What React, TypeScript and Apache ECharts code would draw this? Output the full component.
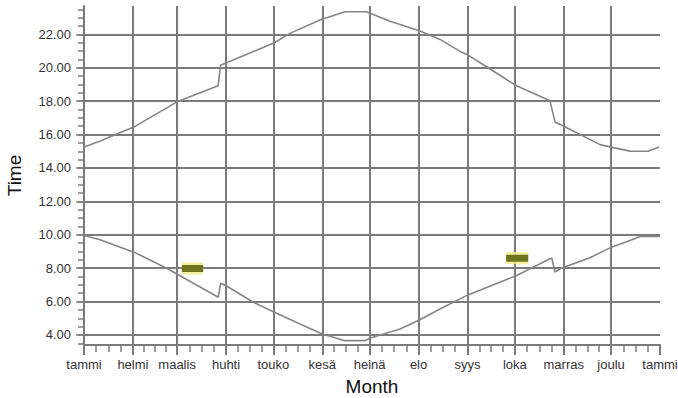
import React, { useEffect, useRef } from 'react';
import * as echarts from 'echarts';

// Month boundaries (day of year) and their Finnish labels
const monthStarts = [0, 31, 59, 90, 120, 151, 181, 212, 243, 273, 304, 334, 365];
const monthLabels = ['tammi', 'helmi', 'maalis', 'huhti', 'touko', 'kesä', 'heinä', 'elo', 'syys', 'loka', 'marras', 'joulu', 'tammi'];

// Y axis tick labels
const yLabelValues = [4, 6, 8, 10, 12, 14, 16, 18, 20, 22];
const yMinorValues = [3.5, 4, 4.5, 5, 5.5, 6, 6.5, 7, 7.5, 8, 8.5, 9, 9.5, 10, 10.5, 11, 11.5, 12, 12.5, 13, 13.5, 14, 14.5, 15, 15.5, 16, 16.5, 17, 17.5, 18, 18.5, 19, 19.5, 20, 20.5, 21, 21.5, 22, 22.5, 23, 23.5];

// Sunset (upper curve)
const sunsetDays = [0, 10, 31.5, 59, 85, 86.5, 94.6, 120.6, 130.5, 149.5, 165.4, 179, 193.5, 212.5, 225.6, 238.3, 243.4, 256.8, 273.4, 295.3, 298.5, 304, 327, 334, 346, 357.4, 364.4];
const sunsetTimes = [15.25, 15.6, 16.45, 17.96, 18.92, 20.15, 20.46, 21.5, 22.06, 22.86, 23.36, 23.36, 22.8, 22.22, 21.7, 20.98, 20.76, 19.96, 18.96, 18.02, 16.75, 16.5, 15.4, 15.25, 15.01, 15.0, 15.25];

// Sunrise (lower curve)
const sunriseDays = [0, 10.1, 31.7, 52.4, 85.1, 86.6, 90.4, 107.3, 120.6, 136.9, 151, 165.4, 178, 181, 200.2, 212.5, 225.6, 243.3, 274.2, 295.3, 296.4, 298.5, 301.6, 304.2, 320.6, 334.2, 346, 352.3, 365];
const sunriseTimes = [9.96, 9.7, 8.96, 8.0, 6.26, 7.1, 6.93, 5.96, 5.36, 4.66, 4.06, 3.66, 3.66, 3.8, 4.36, 4.9, 5.56, 6.4, 7.56, 8.56, 8.62, 7.76, 7.96, 8.05, 8.62, 9.26, 9.66, 9.9, 9.9];

// Highlight marks
const markADays = [62, 75.5];
const markATimes = [7.98, 7.98];
const markBDays = [267.5, 281.5];
const markBTimes = [8.6, 8.6];

const zip = (xs: number[], ys: number[]) => xs.map((x, i) => [x, ys[i]]);

const quarterTicks: number[] = [];
for (let i = 0; i < monthStarts.length - 1; i++) {
  const a = monthStarts[i];
  const b = monthStarts[i + 1];
  for (let q = 1; q < 4; q++) quarterTicks.push(a + ((b - a) * q) / 4);
}

const GRID = '#7b7b7b';
const LINE = '#858585';
const FONT = '"Liberation Sans", Arial, sans-serif';

export default function App() {
  const ref = useRef<HTMLDivElement>(null);
  useEffect(() => {
    const chart = echarts.init(ref.current!, null, { renderer: 'svg' });
    const glow = (name: string, data: number[][]) => ({
      type: 'line',
      name,
      xAxisIndex: 0,
      yAxisIndex: 0,
      showSymbol: false,
      symbol: 'none',
      silent: true,
      data,
      lineStyle: { color: '#f2ee8a', width: 12, opacity: 0.85 },
      z: 4,
    });
    const core = (name: string, data: number[][]) => ({
      type: 'line',
      name,
      xAxisIndex: 0,
      yAxisIndex: 0,
      showSymbol: false,
      symbol: 'none',
      silent: true,
      data,
      lineStyle: { color: '#6e7420', width: 7 },
      z: 5,
    });
    chart.setOption({
      animation: false,
      backgroundColor: '#ffffff',
      textStyle: { fontFamily: FONT },
      grid: { left: 84, right: 18, top: 6, bottom: 53, containLabel: false, outerBoundsMode: 'none' },
      xAxis: [
        {
          type: 'value',
          min: 0,
          max: 365,
          position: 'bottom',
          name: 'Month',
          nameLocation: 'middle',
          nameGap: 32,
          nameTextStyle: { fontSize: 19, color: '#111', fontFamily: FONT },
          axisLine: { show: true, onZero: false, lineStyle: { color: GRID, width: 2 } },
          axisTick: { show: true, customValues: monthStarts, length: 10, lineStyle: { color: GRID, width: 2 } },
          axisLabel: {
            customValues: monthStarts,
            showMinLabel: true,
            showMaxLabel: true,
            margin: 13,
            fontSize: 13,
            color: '#333',
            fontFamily: FONT,
            formatter: (v: number) => monthLabels[monthStarts.indexOf(Math.round(v))] ?? '',
          },
          splitLine: { show: true, showMaxLine: false, lineStyle: { color: GRID, width: 2 } },
        },
        {
          type: 'value',
          min: 0,
          max: 365,
          position: 'bottom',
          axisLine: { show: false, onZero: false },
          axisTick: { show: true, customValues: quarterTicks, length: 7, lineStyle: { color: GRID, width: 1.5 } },
          axisLabel: { show: false },
          splitLine: { show: false },
        },
      ],
      yAxis: [
        {
          type: 'value',
          min: 3.4,
          max: 23.7,
          position: 'left',
          name: 'Time',
          nameLocation: 'middle',
          nameGap: 60,
          nameRotate: 90,
          nameTextStyle: { fontSize: 19, color: '#111', fontFamily: FONT },
          axisLine: { show: true, onZero: false, lineStyle: { color: GRID, width: 2 } },
          axisTick: { show: true, customValues: yLabelValues, length: 8, lineStyle: { color: GRID, width: 1.5 } },
          axisLabel: {
            customValues: yLabelValues,
            margin: 13,
            fontSize: 13,
            color: '#333',
            fontFamily: FONT,
            formatter: (v: number) => v.toFixed(2),
          },
          splitLine: { show: true, lineStyle: { color: GRID, width: 2 } },
        },
        {
          type: 'value',
          min: 3.4,
          max: 23.7,
          position: 'left',
          axisLine: { show: false, onZero: false },
          axisTick: { show: true, customValues: yMinorValues, length: 6, lineStyle: { color: GRID, width: 1.5 } },
          axisLabel: { show: false },
          splitLine: { show: false },
        },
      ],
      series: [
        {
          type: 'line',
          name: 'sunset',
          xAxisIndex: 0,
          yAxisIndex: 0,
          showSymbol: false,
          symbol: 'none',
          data: zip(sunsetDays, sunsetTimes),
          lineStyle: { color: LINE, width: 1.6 },
        },
        {
          type: 'line',
          name: 'sunrise',
          xAxisIndex: 0,
          yAxisIndex: 0,
          showSymbol: false,
          symbol: 'none',
          data: zip(sunriseDays, sunriseTimes),
          lineStyle: { color: LINE, width: 1.6 },
        },
        glow('markAGlow', zip(markADays, markATimes)),
        core('markA', zip(markADays, markATimes)),
        glow('markBGlow', zip(markBDays, markBTimes)),
        core('markB', zip(markBDays, markBTimes)),
      ],
    });
    return () => chart.dispose();
  }, []);
  return (
    <div
      ref={ref}
      style={{ position: 'absolute', left: 0, top: 0, width: 678, height: 398, background: '#fff' }}
    />
  );
}
